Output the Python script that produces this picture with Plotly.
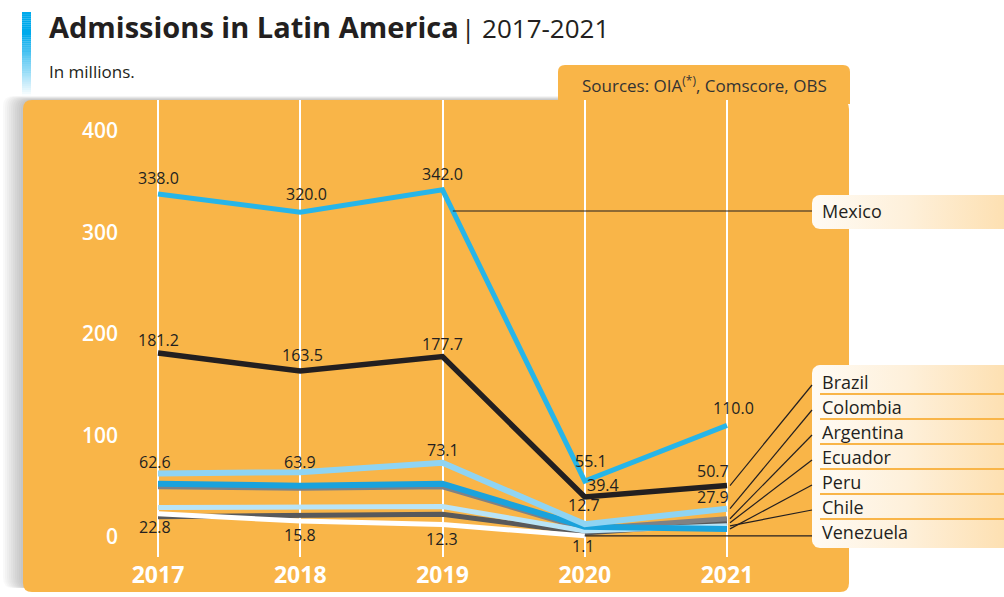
import plotly.graph_objects as go
import numpy as np

# ---------------- data ----------------
years = [2017, 2018, 2019, 2020, 2021]
mexico = [338.0, 320.0, 342.0, 55.1, 110.0]
brazil = [181.2, 163.5, 177.7, 39.4, 50.7]
colombia = [62.6, 63.9, 73.1, 12.7, 27.9]
argentina = [49.5, 48.0, 49.5, 8.0, 18.0]
ecuador = [20.0, 21.5, 22.5, 4.0, 14.0]
peru = [52.5, 50.5, 52.5, 10.0, 8.0]
chile = [29.0, 29.0, 30.0, 6.0, 11.0]
venezuela = [22.8, 15.8, 12.3, 1.1, None]
y_ticks = [0, 100, 200, 300, 400]
legend_names = ["Brazil", "Colombia", "Argentina", "Ecuador", "Peru", "Chile", "Venezuela"]

# ---------------- layout helpers ----------------
W, H = 1004, 597
ML, MR, MT, MB = 125, 0, 100, 40
PW, PH = W - ML - MR, H - MT - MB
X_PX_PER_YEAR = 142.25
X0_PX = 158.0          # pixel of 2017
Y0_PX = 537.0          # pixel of value 0
Y_PX_PER_UNIT = 1.015


def px2x(px):
    return 2017 + (px - X0_PX) / X_PX_PER_YEAR


def py2y(py):
    return (Y0_PX - py) / Y_PX_PER_UNIT


def pxp(px):
    return (px - ML) / PW


def pyp(py):
    return (MT + PH - py) / PH


def rrect_path(x0, y0, x1, y1, r, tl=True, tr=True, br=True, bl=True):
    """rounded rectangle in pixel coords -> SVG path in paper coords"""
    P = lambda x, y: f"{pxp(x):.5f},{pyp(y):.5f}"
    s = ""
    s += "M" + (P(x0 + r, y0) if tl else P(x0, y0))
    s += " L" + (P(x1 - r, y0) if tr else P(x1, y0))
    if tr:
        s += " Q" + P(x1, y0) + " " + P(x1, y0 + r)
    s += " L" + (P(x1, y1 - r) if br else P(x1, y1))
    if br:
        s += " Q" + P(x1, y1) + " " + P(x1 - r, y1)
    s += " L" + (P(x0 + r, y1) if bl else P(x0, y1))
    if bl:
        s += " Q" + P(x0, y1) + " " + P(x0, y1 - r)
    s += " L" + (P(x0, y0 + r) if tl else P(x0, y0))
    if tl:
        s += " Q" + P(x0, y0) + " " + P(x0 + r, y0)
    s += " Z"
    return s


ORANGE = "#f9b548"
DARK = "#231f20"
FONT = "Open Sans"

fig = go.Figure()

# ---------------- legend label boxes (gradient) ----------------
def box_trace(x0, y0, x1, y1, r):
    xs, ys = [], []
    for a in np.linspace(np.pi, 1.5 * np.pi, 8):
        xs.append(x0 + r + r * np.cos(a)); ys.append(y0 + r + r * np.sin(a))
    xs += [x1, x1]; ys += [y0, y1]
    for a in np.linspace(0.5 * np.pi, np.pi, 8):
        xs.append(x0 + r + r * np.cos(a)); ys.append(y1 - r + r * np.sin(a))
    xs.append(xs[0]); ys.append(ys[0])
    return go.Scatter(
        x=[px2x(v) for v in xs], y=[py2y(v) for v in ys],
        mode="lines", line=dict(width=0), fill="toself",
        fillgradient=dict(type="horizontal",
                          colorscale=[[0, "#fffbf4"], [0.5, "#fef0da"], [1, "#fde0b2"]]),
        hoverinfo="skip", showlegend=False)


fig.add_trace(box_trace(812, 195, 1004, 229, 8))
fig.add_trace(box_trace(812, 365, 1004, 548, 8))

# ---------------- series ----------------
series = [
    ("Ecuador", ecuador, "#58595b", 5),
    ("Argentina", argentina, "#808184", 5),
    ("Chile", chile, "#b9e4f7", 5),
    ("Venezuela", venezuela, "#ffffff", 5),
    ("Peru", peru, "#1aa2dc", 6),
    ("Colombia", colombia, "#8fd4f3", 6),
    ("Brazil", brazil, "#231f20", 5.5),
    ("Mexico", mexico, "#27b5e8", 5),
]
for name, vals, color, w in series:
    fig.add_trace(go.Scatter(x=years, y=vals, mode="lines", name=name,
                             line=dict(color=color, width=w),
                             connectgaps=False, showlegend=False, hoverinfo="x+y+name"))

# ---------------- shapes ----------------
shapes = []
# panel shadow (mostly on the left)
for k in range(1, 11):
    shapes.append(dict(type="path", xref="paper", yref="paper", layer="below",
                       path=rrect_path(23 - 2.0 * k, 100 - 0.4 * k, 838, 588, 10),
                       fillcolor="rgba(0,0,0,0.022)", line=dict(width=0)))
# orange panel
shapes.append(dict(type="path", xref="paper", yref="paper", layer="below",
                   path=rrect_path(23, 100, 849, 592, 9),
                   fillcolor=ORANGE, line=dict(width=0)))
# sources tab
shapes.append(dict(type="path", xref="paper", yref="paper", layer="below",
                   path=rrect_path(558, 65, 850, 104, 7, br=False, bl=False),
                   fillcolor=ORANGE, line=dict(width=0)))
# title bar gradient
for i in range(40):
    y0 = 12 + i * 2.1
    yc = y0 + 1.05
    a = 1.0 if yc < 34 else max(0.0, 1 - (yc - 34) / 62)
    shapes.append(dict(type="rect", xref="paper", yref="paper", layer="below",
                       x0=pxp(22), x1=pxp(31), y0=pyp(y0), y1=pyp(y0 + 2.2),
                       fillcolor=f"rgba(0,170,236,{a:.3f})", line=dict(width=0)))

# separators in label box
rows = [382, 407, 432, 457, 482, 507, 532]
for ry in rows[:-1]:
    shapes.append(dict(type="line", xref="x", yref="y", layer="above",
                       x0=px2x(820), x1=px2x(1004), y0=py2y(ry + 12), y1=py2y(ry + 12),
                       line=dict(color=ORANGE, width=2)))

# leader lines
leader_w = 1.2
mex_row = 211
mex_val = py2y(mex_row)
t = (mexico[2] - mex_val) / (mexico[2] - mexico[3])
mx = years[2] + t * (years[3] - years[2])
shapes.append(dict(type="line", xref="x", yref="y", layer="above",
                   x0=mx, y0=mex_val, x1=px2x(812), y1=mex_val,
                   line=dict(color=DARK, width=leader_w)))
series_map = {"Brazil": brazil, "Colombia": colombia, "Argentina": argentina,
              "Ecuador": ecuador, "Peru": peru, "Chile": chile}
for name, ry in zip(legend_names, rows):
    if name == "Venezuela":
        v = venezuela[3]
        shapes.append(dict(type="line", xref="x", yref="y", layer="above",
                           x0=years[3], y0=v, x1=px2x(812), y1=v,
                           line=dict(color=DARK, width=leader_w)))
    else:
        v = series_map[name][4]
        shapes.append(dict(type="line", xref="x", yref="y", layer="above",
                           x0=years[4] + 3 / X_PX_PER_YEAR, y0=v,
                           x1=px2x(812), y1=py2y(ry + 3),
                           line=dict(color=DARK, width=leader_w)))

# ---------------- annotations ----------------
ann = []
ann.append(dict(xref="paper", yref="paper", x=pxp(47), y=pyp(27), xanchor="left", yanchor="middle",
                text="<b>Admissions in Latin America</b>", showarrow=False,
                font=dict(family=FONT, size=29, color=DARK)))
ann.append(dict(xref="paper", yref="paper", x=pxp(459), y=pyp(28), xanchor="left", yanchor="middle",
                text="| 2017-2021", showarrow=False,
                font=dict(family=FONT, size=26, color=DARK)))
ann.append(dict(xref="paper", yref="paper", x=pxp(47), y=pyp(71), xanchor="left", yanchor="middle",
                text="In millions.", showarrow=False,
                font=dict(family=FONT, size=17, color=DARK)))
ann.append(dict(xref="paper", yref="paper", x=pxp(704), y=pyp(84), xanchor="center", yanchor="middle",
                text="Sources: OIA<sup>(*)</sup>, Comscore, OBS", showarrow=False,
                font=dict(family=FONT, size=17, color="#333333")))

ann.append(dict(xref="x", yref="y", x=px2x(820), y=py2y(mex_row), xanchor="left", yanchor="middle",
                text="Mexico", showarrow=False, font=dict(family=FONT, size=18, color=DARK)))
for name, ry in zip(legend_names, rows):
    ann.append(dict(xref="x", yref="y", x=px2x(820), y=py2y(ry), xanchor="left", yanchor="middle",
                    text=name, showarrow=False, font=dict(family=FONT, size=18, color=DARK)))

label_sets = [
    (mexico, [(0, 16), (6, 18), (0, 16), (6, 20), (6, 17)]),
    (brazil, [(0, 13), (2, 16), (0, 13), (18, 12), (-14, 15)]),
    (colombia, [(-3, 11), (0, 10), (0, 13), (-1, 19), (-14, 12)]),
    (venezuela, [(-3, -13), (0, -14), (-1, -14), (-1, -10)]),
]
for vals, offs in label_sets:
    for yr, v, (dx, dy) in zip(years, vals, offs):
        if v is None:
            continue
        ann.append(dict(xref="x", yref="y", x=yr, y=v, xshift=dx, yshift=dy,
                        xanchor="center", yanchor="middle", text=f"{v:.1f}", showarrow=False,
                        font=dict(family=FONT, size=16, color=DARK)))

fig.update_layout(
    width=W, height=H,
    margin=dict(l=ML, r=MR, t=MT, b=MB, pad=0),
    paper_bgcolor="white", plot_bgcolor="rgba(0,0,0,0)",
    shapes=shapes, annotations=ann, showlegend=False,
    xaxis=dict(range=[px2x(ML), px2x(W)], tickvals=years, ticktext=[str(y) for y in years],
               showgrid=True, gridcolor="white", gridwidth=1.5, zeroline=False,
               showline=False, ticks="", ticklabelstandoff=2,
               tickfont=dict(family=FONT, size=23, color="white", weight="bold"),
               fixedrange=True),
    yaxis=dict(range=[py2y(MT + PH), py2y(MT)], tickvals=y_ticks,
               showgrid=False, zeroline=False, showline=False, ticks="",
               ticklabelstandoff=6,
               tickfont=dict(family=FONT, size=21, color="white", weight=600), fixedrange=True),
)

fig.write_html("out.html")
